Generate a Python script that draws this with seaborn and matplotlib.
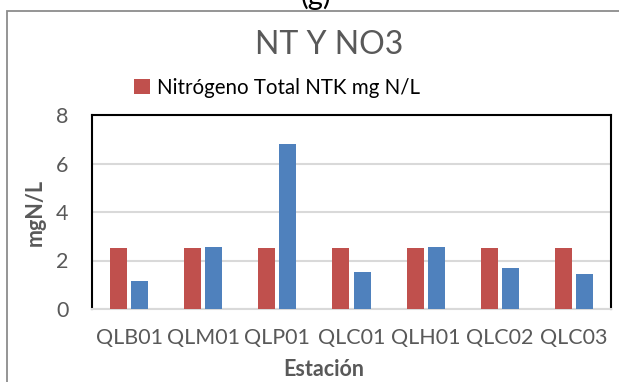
import matplotlib
matplotlib.use("Agg")
import matplotlib.pyplot as plt
import seaborn as sns
import pandas as pd
from matplotlib.patches import Rectangle

# Stations and measured concentrations (mg N/L)
estaciones = ["QLB01", "QLM01", "QLP01", "QLC01", "QLH01", "QLC02", "QLC03"]
ntk = [2.5, 2.5, 2.5, 2.5, 2.5, 2.5, 2.5]
no3 = [1.15, 2.56, 6.8, 1.53, 2.56, 1.7, 1.46]
serie_ntk = "Nitrógeno Total NTK mg N/L"
serie_no3 = "Nitratos NO3 mg N/L"
yticks = [0, 2, 4, 6, 8]

df = pd.DataFrame({
    "Estación": estaciones * 2,
    "valor": ntk + no3,
    "serie": [serie_ntk] * len(estaciones) + [serie_no3] * len(estaciones),
})

sns.set_theme(style="white")
plt.rcParams["font.family"] = ["Lato", "DejaVu Sans"]

W, H = 619, 382
fig = plt.figure(figsize=(W / 100, H / 100), dpi=100)
ax = fig.add_axes([92 / W, 1 - 309 / H, (611 - 92) / W, (309 - 115) / H])

sns.barplot(data=df, x="Estación", y="valor", hue="serie",
            palette=["#C0504D", "#4F81BD"], saturation=1,
            width=0.57, gap=0.19, linewidth=0, ax=ax, zorder=3)

ax.set_ylim(0, 8)
ax.set_xlim(-0.5, len(estaciones) - 0.5)
ax.set_yticks(yticks)
ax.set_yticklabels([str(t) for t in yticks])
ax.yaxis.grid(True, color="#D9D9D9", linewidth=1.5, zorder=0)
ax.set_axisbelow(True)
ax.tick_params(axis="both", length=0, labelsize=15.5, colors="#595959")
ax.tick_params(axis="y", pad=17)
ax.tick_params(axis="x", pad=14)

for side in ("left", "top", "right"):
    ax.spines[side].set_color("black")
    ax.spines[side].set_linewidth(1.5)
ax.spines["bottom"].set_color("#D9D9D9")
ax.spines["bottom"].set_linewidth(1.5)

ax.set_ylabel("mgN/L", fontsize=15.5, fontweight="bold", color="#595959", labelpad=7)
ax.set_xlabel("Estación", fontsize=15.5, fontweight="bold", color="#595959")
ax.xaxis.set_label_coords((324 - 92) / (611 - 92), -(369 - 309) / (309 - 115))
ax.xaxis.label.set_va("center")

# Legend shows only the NTK series
handles, labels = ax.get_legend_handles_labels()
ax.legend(handles[:1], labels[:1], loc="center", bbox_to_anchor=(277 / W, 1 - 88 / H),
          bbox_transform=fig.transFigure, frameon=False, fontsize=14.8,
          handlelength=0.75, handleheight=0.75, handletextpad=0.35,
          borderpad=0, labelcolor="black")

fig.text(329 / W, 1 - 45 / H, "NT Y NO3", ha="center", va="center",
         fontsize=23, color="#595959")

# Outer chart frame and panel tag
fig.patches.append(Rectangle((7 / W, -0.1), 1.2, 1 - 11 / H + 0.1,
                             transform=fig.transFigure, fill=False,
                             edgecolor="#8C8C8C", linewidth=1.3))
fig.text(316 / W, 1 - 5 / H, "(g)", ha="center", va="baseline",
         fontsize=21, color="black")

fig.savefig("out.png", dpi=100)
